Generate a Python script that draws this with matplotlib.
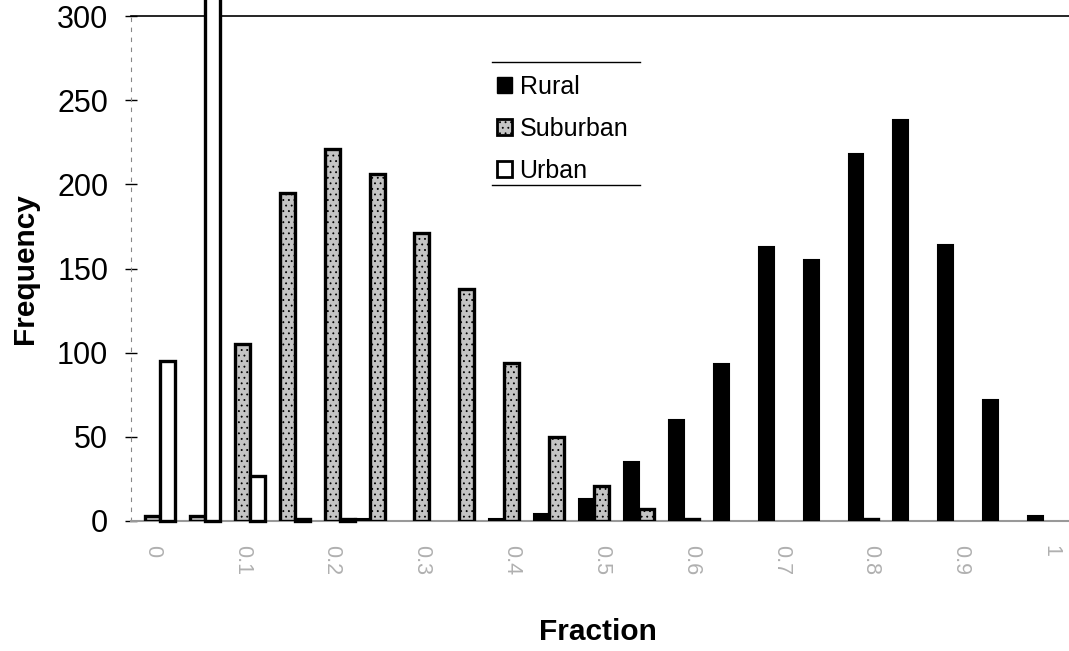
import matplotlib
matplotlib.use("Agg")
import matplotlib.pyplot as plt
from matplotlib.lines import Line2D
from matplotlib.patches import Patch
import numpy as np

# histogram bins (fraction), every 0.05
bins = ["0", "0.05", "0.1", "0.15", "0.2", "0.25", "0.3", "0.35", "0.4", "0.45",
        "0.5", "0.55", "0.6", "0.65", "0.7", "0.75", "0.8", "0.85", "0.9", "0.95", "1"]
tick_labels = ["0", "0.1", "0.2", "0.3", "0.4", "0.5", "0.6", "0.7", "0.8", "0.9", "1"]

rural = [0, 0, 0, 0, 0, 1, 0, 0, 1, 4, 13, 35, 60, 93, 163, 155, 218, 238, 164, 72, 3]
suburban = [3, 3, 105, 195, 221, 206, 171, 138, 94, 50, 21, 7, 1, 0, 0, 0, 1, 0, 0, 0, 0]
# second urban bin runs off the top of the chart (clipped)
urban = [95, 320, 27, 1, 1, 0, 0, 0, 0, 0, 0, 0, 0, 0, 0, 0, 0, 0, 0, 0, 0]

plt.rcParams["font.family"] = ["Liberation Sans", "DejaVu Sans"]
plt.rcParams["hatch.linewidth"] = 0.6

SUB_GRAY = "#c4c4c4"


def edges(vals):
    # Excel draws nothing for empty bins
    return ["black" if v > 0 else "none" for v in vals]


fig = plt.figure(figsize=(10.69, 6.51), dpi=100)
ax = fig.add_axes([0.1225, 0.1997, 0.8775, 0.7757])

x = np.arange(len(bins))
w = 1 / 3

ax.bar(x - w, rural, w, color="black", edgecolor=edges(rural), linewidth=1.5,
       zorder=3)
ax.bar(x, suburban, w, color=SUB_GRAY, edgecolor=edges(suburban), linewidth=2.4,
       hatch="...", zorder=3)
ax.bar(x + w, urban, w, color="white", edgecolor=edges(urban), linewidth=2.4,
       zorder=3, clip_on=False)

ax.set_xlim(-0.48, 20.41)
ax.set_ylim(0, 300)
ax.set_yticks(np.arange(0, 301, 50))
ax.set_xticks(x[::2])
ax.set_xticklabels(tick_labels, rotation=270, color="#b0b0b0", fontsize=15.5)
ax.tick_params(axis="x", length=0, pad=17)
ax.tick_params(axis="y", direction="inout", length=8.6, width=1, pad=12,
               labelsize=22)

ax.spines["right"].set_visible(False)
ax.spines["top"].set_color("black")
ax.spines["top"].set_linewidth(1.2)
ax.spines["left"].set_linestyle((0, (3, 6)))
ax.spines["left"].set_color("#888888")
ax.spines["left"].set_linewidth(0.8)
ax.spines["bottom"].set_color("#999999")
ax.spines["bottom"].set_linewidth(1.5)

fig.text(25 / 1069, 1 - 268.5 / 651, "Frequency", rotation=90, ha="center",
         va="center", fontsize=21.5, fontweight="bold")
fig.text(598 / 1069, 1 - 632 / 651, "Fraction", ha="center", va="center",
         fontsize=21.5, fontweight="bold")

handles = [
    Patch(facecolor="black", edgecolor="black", label="Rural"),
    Patch(facecolor=SUB_GRAY, edgecolor="black", hatch="...", linewidth=2,
          label="Suburban"),
    Patch(facecolor="white", edgecolor="black", linewidth=2, label="Urban"),
]
fig.legend(handles=handles, loc="center left",
           bbox_to_anchor=(497 / 1069, 1 - 129 / 651), frameon=False,
           fontsize=18, handlelength=0.6, handleheight=0.6, handletextpad=0.3,
           labelspacing=0.72, borderpad=0, borderaxespad=0)

# legend box has only top and bottom rules
for yy in (62, 185):
    fig.add_artist(Line2D([492 / 1069, 640 / 1069], [1 - yy / 651, 1 - yy / 651],
                          color="black", linewidth=1))

fig.savefig("out.png", dpi=100)
